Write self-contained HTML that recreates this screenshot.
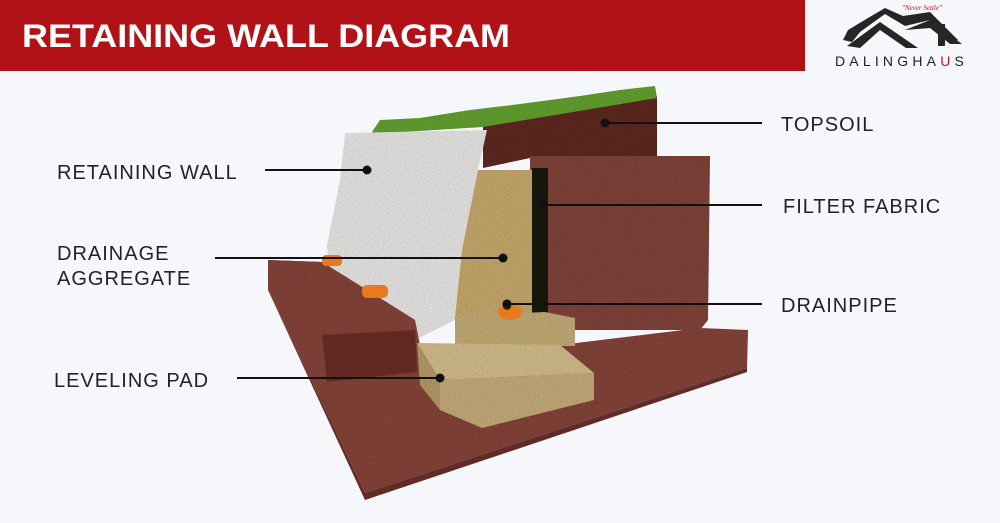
<!DOCTYPE html>
<html><head><meta charset="utf-8"><style>
html,body{margin:0;padding:0;background:#f6f7fb;}
svg{display:block}
</style></head><body>
<svg width="1000" height="523" viewBox="0 0 1000 523" xmlns="http://www.w3.org/2000/svg">
<defs>
<filter id="n" x="0" y="0" width="100%" height="100%">
<feTurbulence type="fractalNoise" baseFrequency="0.9" numOctaves="2" result="t"/>
<feColorMatrix in="t" type="matrix" values="0 0 0 0 0  0 0 0 0 0  0 0 0 0 0  0 0 0 0.5 -0.1" result="a"/>
<feComposite in="a" in2="SourceGraphic" operator="in" result="b"/>
<feMerge><feMergeNode in="SourceGraphic"/><feMergeNode in="b"/></feMerge>
</filter>
</defs>
<rect width="1000" height="523" fill="#f6f7fb"/>
<rect x="0" y="0" width="805" height="71" fill="#b11217"/>
<text x="22" y="47" font-family="Liberation Sans, sans-serif" font-weight="bold" font-size="32" fill="#fff" textLength="488" lengthAdjust="spacingAndGlyphs">RETAINING WALL DIAGRAM</text>

<!-- logo -->
<g fill="#262626">
<polygon points="843,40 848,30 868,18 885,8 903,16 930,12 958,40 950,42 930,20 905,26 885,14 860,32 852,42"/>
<polygon points="847,46 880,22 918,48 906,48 880,30 860,48"/>
<polygon points="905,30 930,20 962,44 950,44 930,28"/>
<rect x="938" y="24" width="7" height="22"/>
</g>
<text x="902" y="10" font-family="Liberation Serif, serif" font-style="italic" font-size="7" fill="#c0131a">"Never Settle"</text>
<text x="835" y="66" font-family="Liberation Sans, sans-serif" font-size="14" fill="#222" letter-spacing="4.2">DALINGHA<tspan fill="#c0131a">U</tspan>S</text>

<g filter="url(#n)">
<!-- back topsoil block -->
<polygon points="483,126 657,96 657,160 530,158 483,168" fill="#5e2a22"/>
<!-- grass -->
<polygon points="372,132 380,120 420,118 470,110 520,104 580,96 620,90 655,86 657,98 483,127 372,134" fill="#63a030"/>
<!-- right brown block -->
<polygon points="530,156 710,156 708,320 700,330 545,330 530,320" fill="#80443a"/>
<!-- white wall -->
<polygon points="345,133 487,130 478,170 455,320 415,340 330,290 327,245 340,180" fill="#e8e6e5"/>
<!-- big base slab -->
<polygon points="268,260 322,262 415,320 420,345 560,345 700,328 748,330 747,368 365,493 268,290" fill="#84443a"/>
<polygon points="268,290 365,493 747,368 747,372 365,500" fill="#6a302a"/>
<!-- left raised block front face -->
<polygon points="322,335 415,330 417,372 327,382" fill="#6a2f28"/>
<polygon points="268,260 322,262 415,320 415,330 322,335 268,290" fill="#84443a"/>
<!-- aggregate column -->
<polygon points="478,170 532,170 532,318 455,318 462,250" fill="#c6a86c"/>
<!-- filter fabric -->
<rect x="532" y="168" width="16" height="152" fill="#1e1a18"/>
<!-- aggregate step -->
<polygon points="455,316 545,312 575,318 575,346 455,346" fill="#c2ab76"/>
<!-- leveling pad -->
<polygon points="417,343 560,345 594,373 440,380" fill="#d3bc8c"/>
<polygon points="440,380 594,373 594,400 482,428 440,410" fill="#c4ab7a"/>
<polygon points="417,343 440,380 440,410 420,385" fill="#b59a68"/>
</g>
<!-- pipes -->
<rect x="322" y="255" width="20" height="11" rx="4" fill="#e87a1e"/>
<rect x="362" y="285" width="26" height="13" rx="5" fill="#e87a1e"/>
<ellipse cx="510" cy="312" rx="12" ry="8" fill="#e87a1e"/>
<ellipse cx="507" cy="307" rx="4" ry="3" fill="#5a2a10"/>

<!-- leader lines -->
<g stroke="#111" stroke-width="2" fill="#111">
<line x1="265" y1="170" x2="367" y2="170"/><circle cx="367" cy="170" r="3.5"/>
<line x1="215" y1="258" x2="503" y2="258"/><circle cx="503" cy="258" r="3.5"/>
<line x1="237" y1="378" x2="440" y2="378"/><circle cx="440" cy="378" r="3.5"/>
<line x1="605" y1="123" x2="762" y2="123"/><circle cx="605" cy="123" r="3.5"/>
<line x1="542" y1="205" x2="762" y2="205"/><circle cx="542" cy="205" r="3.5"/>
<line x1="507" y1="304" x2="762" y2="304"/><circle cx="507" cy="304" r="3.5"/>
</g>
<g font-family="Liberation Sans, sans-serif" font-size="20" fill="#222" letter-spacing="1">
<text x="57" y="179">RETAINING WALL</text>
<text x="57" y="260">DRAINAGE</text>
<text x="57" y="285">AGGREGATE</text>
<text x="54" y="387">LEVELING PAD</text>
<text x="781" y="131">TOPSOIL</text>
<text x="783" y="213">FILTER FABRIC</text>
<text x="781" y="312">DRAINPIPE</text>
</g>
</svg>
</body></html>
